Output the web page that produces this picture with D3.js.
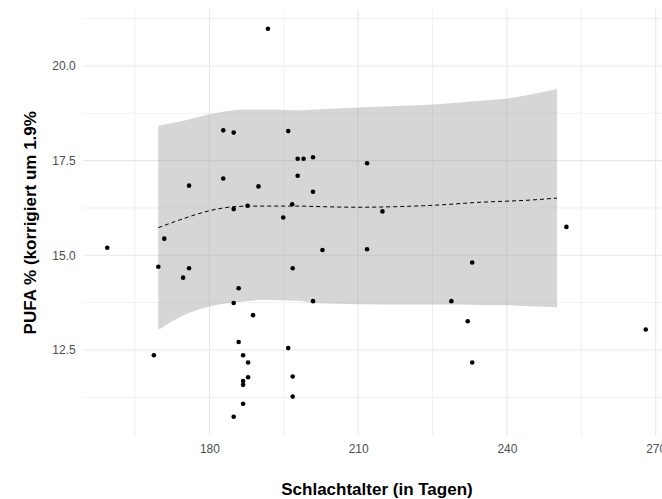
<!DOCTYPE html>
<html>
<head>
<meta charset="utf-8">
<script src="https://cdn.jsdelivr.net/npm/d3@7"></script>
<style>
  body { margin: 0; background: #fff; }
  svg { display: block; font-family: "Liberation Sans", Arial, sans-serif; }
</style>
</head>
<body>
<svg id="chart" width="662" height="499"></svg>
<script>
// Schlachtalter (Tage) und PUFA %
const ageDays = [191.8, 182.8, 184.9, 195.9, 197.8, 199.0, 200.9, 175.9, 182.8, 189.9,
  197.8, 200.9, 184.9, 187.7, 196.7, 194.9, 170.9, 159.4, 202.8, 211.8,
  211.8, 214.9, 252.0, 169.7, 175.9, 174.7, 185.9, 184.9, 188.8, 196.8,
  200.9, 185.9, 195.9, 168.8, 186.8, 187.8, 187.8, 186.8, 186.8, 196.8,
  196.8, 186.8, 184.9, 233.0, 228.8, 232.1, 233.0, 268.0];
const pufa = [20.98, 18.30, 18.24, 18.28, 17.55, 17.55, 17.59, 16.84, 17.03, 16.82,
  17.10, 16.68, 16.22, 16.31, 16.35, 16.00, 15.44, 15.20, 15.14, 15.16,
  17.43, 16.16, 15.75, 14.70, 14.66, 14.41, 14.13, 13.74, 13.42, 14.66,
  13.79, 12.71, 12.55, 12.36, 12.36, 12.17, 11.78, 11.68, 11.58, 11.80,
  11.27, 11.08, 10.74, 14.81, 13.79, 13.26, 12.17, 13.04];

// Glättung mit Konfidenzband
const fitX  = [169.7, 174.8, 179.5, 182.8, 185.5, 190.2, 195.6, 198.3, 201.0, 210.0, 223.2, 225.0, 234.6, 240.0, 242.0, 250.1];
const fitY  = [15.73, 15.97, 16.16, 16.25, 16.29, 16.30, 16.30, 16.30, 16.29, 16.27, 16.31, 16.32, 16.40, 16.43, 16.44, 16.51];
const upper = [18.42, 18.55, 18.71, 18.79, 18.84, 18.85, 18.84, 18.83, 18.85, 18.90, 18.97, 18.98, 19.08, 19.14, 19.18, 19.39];
const lower = [13.03, 13.42, 13.63, 13.72, 13.76, 13.82, 13.81, 13.80, 13.74, 13.71, 13.70, 13.70, 13.69, 13.68, 13.67, 13.63];

const xTicks = [180, 210, 240, 270];
const yTicks = [12.5, 15.0, 17.5, 20.0];
const xMinor = [165, 195, 225, 255];
const yMinor = [11.25, 13.75, 16.25, 18.75, 21.25];

const svg = d3.select('#chart');
const x = d3.scaleLinear().domain([154.45, 273.9]).range([82.7, 675]);
const y = d3.scaleLinear().domain([10.23, 21.49]).range([436, 9.5]);

const grid = svg.append('g');
grid.selectAll('.xmin').data(xMinor).join('line')
  .attr('x1', d => x(d)).attr('x2', d => x(d)).attr('y1', y.range()[1]).attr('y2', y.range()[0])
  .attr('stroke', '#f0f0f0').attr('stroke-width', 1);
grid.selectAll('.ymin').data(yMinor).join('line')
  .attr('y1', d => y(d)).attr('y2', d => y(d)).attr('x1', x.range()[0]).attr('x2', x.range()[1])
  .attr('stroke', '#f0f0f0').attr('stroke-width', 1);
grid.selectAll('.xmaj').data(xTicks).join('line')
  .attr('x1', d => x(d)).attr('x2', d => x(d)).attr('y1', y.range()[1]).attr('y2', y.range()[0])
  .attr('stroke', '#e8e8e8').attr('stroke-width', 1.1);
grid.selectAll('.ymaj').data(yTicks).join('line')
  .attr('y1', d => y(d)).attr('y2', d => y(d)).attr('x1', x.range()[0]).attr('x2', x.range()[1])
  .attr('stroke', '#e8e8e8').attr('stroke-width', 1.1);

const band = fitX.map((d, i) => ({ x: d, lo: lower[i], hi: upper[i], f: fitY[i] }));

svg.append('path')
  .datum(band)
  .attr('d', d3.area().x(d => x(d.x)).y0(d => y(d.lo)).y1(d => y(d.hi)).curve(d3.curveMonotoneX))
  .attr('fill', '#999999').attr('fill-opacity', 0.4);

svg.append('path')
  .datum(band)
  .attr('d', d3.line().x(d => x(d.x)).y(d => y(d.f)).curve(d3.curveMonotoneX))
  .attr('fill', 'none').attr('stroke', '#000').attr('stroke-width', 1)
  .attr('stroke-dasharray', '4,3');

svg.append('g')
  .selectAll('circle')
  .data(ageDays)
  .join('circle')
  .attr('cx', d => x(d))
  .attr('cy', (d, i) => y(pufa[i]))
  .attr('r', 2.3)
  .attr('fill', '#000');

const xAxis = svg.append('g')
  .attr('transform', `translate(0,${y.range()[0] + 5})`)
  .call(d3.axisBottom(x).tickValues(xTicks).tickSize(0).tickFormat(d3.format('d')));
xAxis.select('.domain').remove();
xAxis.selectAll('text').attr('fill', '#4d4d4d').attr('font-size', 12)
  .attr('font-family', '"Liberation Sans", Arial, sans-serif');

const yAxis = svg.append('g')
  .attr('transform', `translate(${x.range()[0] - 4},0)`)
  .call(d3.axisLeft(y).tickValues(yTicks).tickSize(0).tickFormat(d3.format('.1f')));
yAxis.select('.domain').remove();
yAxis.selectAll('text').attr('fill', '#4d4d4d').attr('font-size', 12)
  .attr('font-family', '"Liberation Sans", Arial, sans-serif');

svg.append('text')
  .attr('x', 377)
  .attr('y', 495)
  .attr('text-anchor', 'middle')
  .attr('font-size', 17).attr('font-weight', 'bold')
  .text('Schlachtalter (in Tagen)');

svg.append('text')
  .attr('transform', `translate(36,${(y.range()[0] + y.range()[1]) / 2}) rotate(-90)`)
  .attr('text-anchor', 'middle')
  .attr('font-size', 17).attr('font-weight', 'bold')
  .text('PUFA % (korrigiert um 1.9%');
</script>
</body>
</html>
